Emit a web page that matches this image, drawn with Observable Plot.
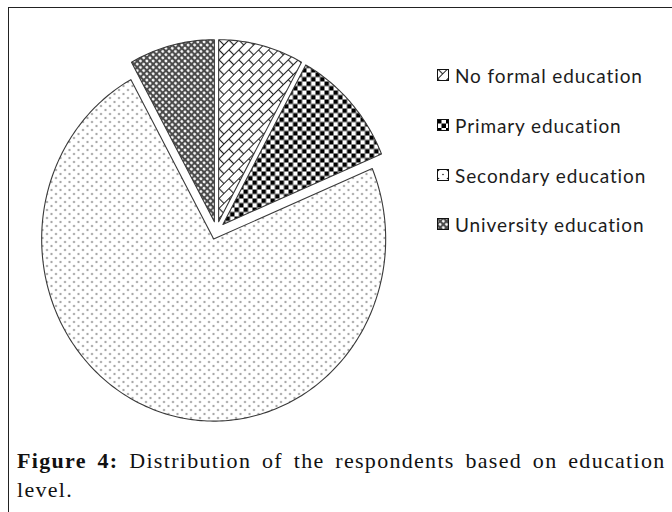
<!DOCTYPE html>
<html>
<head>
<meta charset="utf-8">
<script src="https://cdn.jsdelivr.net/npm/d3@7"></script>
<script src="https://cdn.jsdelivr.net/npm/@observablehq/plot@0.6"></script>
<style>
  html, body { margin: 0; padding: 0; background: #fff; }
  body { width: 672px; height: 512px; overflow: hidden; position: relative; }
  #frame { position: absolute; left: 7.5px; top: 6.5px; width: 720px; height: 560px;
           border-left: 1.5px solid #222; border-top: 1.5px solid #222; }
  #chart { position: absolute; left: 0; top: 0; }
  #legend { position: absolute; left: 437px; top: 0; font-family: Lato, sans-serif;
            font-size: 19px; letter-spacing: 0.9px; color: #1c1c1c; }
  .item { position: absolute; left: 0; height: 24px; display: flex; align-items: center; white-space: nowrap; }
  .item svg { margin-right: 6px; flex: none; }
  #caption { position: absolute; left: 17px; top: 446px; font-family: "Liberation Serif", serif;
             font-size: 22px; letter-spacing: 1.3px; word-spacing: 4px; line-height: 29px;
             color: #111; white-space: nowrap; }
</style>
</head>
<body>
<!-- fill patterns shared by the pie slices and the legend swatches -->
<svg width="0" height="0" style="position:absolute">
  <defs>
    <pattern id="pat-none" width="14" height="14" patternUnits="userSpaceOnUse" patternTransform="rotate(-45)">
      <rect width="14" height="14" fill="#fff"/>
      <path d="M0 0.5H14M0 7.5H14M0.5 0V7M7.5 7V14" stroke="#222" stroke-width="1.2" fill="none"/>
    </pattern>
    <pattern id="pat-primary" width="9" height="9" patternUnits="userSpaceOnUse">
      <rect width="9" height="9" fill="#fff"/>
      <rect x="0" y="0" width="4.5" height="4.5" fill="#000"/>
      <rect x="4.5" y="4.5" width="4.5" height="4.5" fill="#000"/>
    </pattern>
    <pattern id="pat-secondary" width="9" height="8" patternUnits="userSpaceOnUse">
      <rect width="9" height="8" fill="#fff"/>
      <circle cx="1.5" cy="1.5" r="0.8" fill="#222"/>
      <circle cx="6" cy="5.5" r="0.8" fill="#222"/>
    </pattern>
    <pattern id="pat-university" width="4.5" height="4.5" patternUnits="userSpaceOnUse" patternTransform="rotate(45)">
      <rect width="4.5" height="4.5" fill="#4a4a4a"/>
      <circle cx="2.25" cy="2.25" r="1.45" fill="#fff"/>
    </pattern>
  </defs>
</svg>

<div id="frame"></div>
<div id="chart"></div>
<div id="legend"></div>
<div id="caption"><b>Figure 4:</b> Distribution of the respondents based on education<br>level.</div>

<script>
// Respondents by level of education
const categories = ["No formal education", "Primary education", "Secondary education", "University education"];
const respondents = [12, 16, 110, 12];
const patternIds = ["pat-none", "pat-primary", "pat-secondary", "pat-university"];

// Build each slice as a closed outline in unit-circle coordinates,
// clockwise from 12 o'clock, every slice pulled out along its mid-angle.
const explode = 0.05;
const total = d3.sum(respondents);
let acc = 0;
const slices = categories.map((category, i) => {
  const a0 = acc / total * 2 * Math.PI;
  acc += respondents[i];
  const a1 = acc / total * 2 * Math.PI;
  return {category, a0, a1, mid: (a0 + a1) / 2};
});
const outline = slices.flatMap(s => {
  const ox = explode * Math.sin(s.mid), oy = explode * Math.cos(s.mid);
  const pts = [{category: s.category, x: ox, y: oy}];
  const n = Math.max(2, Math.ceil((s.a1 - s.a0) / (Math.PI / 180)));
  for (let k = 0; k <= n; k++) {
    const a = s.a0 + (s.a1 - s.a0) * k / n;
    pts.push({category: s.category, x: ox + Math.sin(a), y: oy + Math.cos(a)});
  }
  return pts;
});

const rx = 172, ry = 182, cx = 216, cy = 230;
const chart = Plot.plot({
  width: 440,
  height: 452,
  margin: 0,
  x: {domain: [-1.2, 1.2], range: [cx - 1.2 * rx, cx + 1.2 * rx], axis: null},
  y: {domain: [-1.2, 1.2], range: [cy + 1.2 * ry, cy - 1.2 * ry], axis: null},
  marks: categories.map((c, i) =>
    Plot.line(outline.filter(d => d.category === c), {
      x: "x", y: "y", curve: "linear-closed",
      fill: `url(#${patternIds[i]})`, stroke: "#3a3a3a", strokeWidth: 1.1
    })
  )
});
document.getElementById("chart").append(chart);

// Legend with patterned swatches
const legend = d3.select("#legend");
const legendTop = [63, 113, 163, 212];
categories.forEach((c, i) => {
  const item = legend.append("div").attr("class", "item").style("top", legendTop[i] + "px");
  const sw = item.append("svg").attr("width", 12).attr("height", 12);
  sw.append("rect").attr("x", 0.5).attr("y", 0.5).attr("width", 11).attr("height", 11)
    .attr("fill", `url(#${patternIds[i]})`).attr("stroke", "#111");
  item.append("span").text(c);
});
</script>
</body>
</html>
